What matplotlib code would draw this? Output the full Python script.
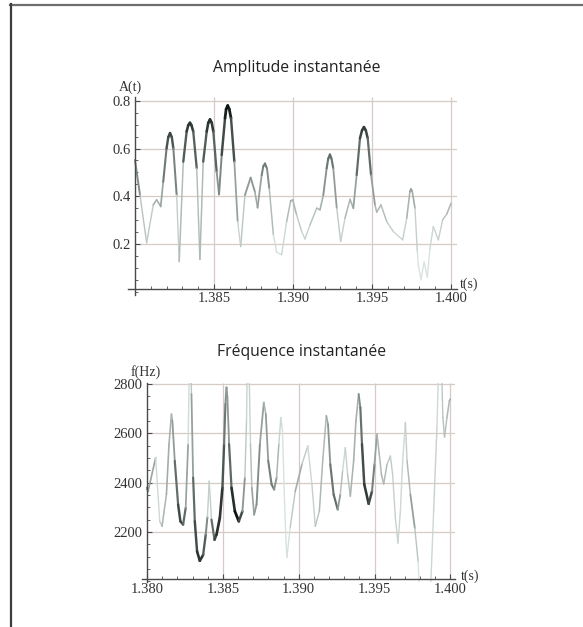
import numpy as np
import matplotlib
matplotlib.use('Agg')
import matplotlib.pyplot as plt
from matplotlib.collections import LineCollection
from matplotlib.lines import Line2D
from matplotlib.ticker import MultipleLocator

# ---------------- data ----------------
amp_t = [1.38000, 1.38032, 1.38074, 1.38116, 1.38137, 1.38163, 1.38179, 1.38200,
         1.38211, 1.38222, 1.38233, 1.38243, 1.38264, 1.38280, 1.38306, 1.38327,
         1.38337, 1.38348, 1.38358, 1.38369, 1.38391, 1.38411, 1.38432, 1.38454,
         1.38464, 1.38475, 1.38486, 1.38496, 1.38517, 1.38532, 1.38549, 1.38570,
         1.38577, 1.38587, 1.38597, 1.38608, 1.38629, 1.38650, 1.38669, 1.38696,
         1.38732, 1.38759, 1.38776, 1.38802, 1.38812, 1.38823, 1.38836, 1.38850,
         1.38876, 1.38897, 1.38928, 1.38960, 1.38985, 1.38998, 1.39023, 1.39055,
         1.39076, 1.39108, 1.39150, 1.39171, 1.39192, 1.39213, 1.39223, 1.39234,
         1.39244, 1.39255, 1.39277, 1.39302, 1.39329, 1.39361, 1.39382, 1.39403,
         1.39424, 1.39437, 1.39449, 1.39461, 1.39473, 1.39494, 1.39519, 1.39530,
         1.39557, 1.39593, 1.39635, 1.39694, 1.39720, 1.39740, 1.39747, 1.39755,
         1.39772, 1.39787, 1.39793, 1.39810, 1.39830, 1.39850, 1.39867, 1.39888,
         1.39920, 1.39947, 1.39973, 1.40000]
amp_a = [0.552, 0.405, 0.205, 0.364, 0.385, 0.357, 0.461, 0.601,
         0.648, 0.665, 0.648, 0.601, 0.405, 0.126, 0.545, 0.671,
         0.697, 0.708, 0.697, 0.671, 0.517, 0.135, 0.545, 0.671,
         0.708, 0.722, 0.708, 0.671, 0.503, 0.408, 0.573, 0.727,
         0.765, 0.780, 0.765, 0.727, 0.545, 0.294, 0.189, 0.405,
         0.478, 0.419, 0.352, 0.489, 0.525, 0.537, 0.515, 0.433,
         0.238, 0.165, 0.155, 0.294, 0.380, 0.385, 0.322, 0.252,
         0.221, 0.280, 0.350, 0.343, 0.405, 0.517, 0.557, 0.575,
         0.557, 0.517, 0.350, 0.210, 0.308, 0.387, 0.350, 0.489,
         0.643, 0.676, 0.690, 0.676, 0.643, 0.489, 0.364, 0.333,
         0.364, 0.294, 0.252, 0.217, 0.308, 0.420, 0.430, 0.420,
         0.350, 0.168, 0.112, 0.050, 0.125, 0.060, 0.182, 0.273,
         0.217, 0.301, 0.325, 0.370]

freq_t = [1.38000, 1.38007, 1.38057, 1.38084, 1.38099, 1.38128, 1.38145, 1.38161,
          1.38167, 1.38183, 1.38205, 1.38220, 1.38238, 1.38255, 1.38271, 1.38280,
          1.38288, 1.38293, 1.38304, 1.38315, 1.38330, 1.38348, 1.38370, 1.38387,
          1.38398, 1.38410, 1.38425, 1.38445, 1.38458, 1.38480, 1.38497, 1.38508,
          1.38517, 1.38524, 1.38530, 1.38541, 1.38557, 1.38579, 1.38605, 1.38629,
          1.38645, 1.38656, 1.38662, 1.38670, 1.38682, 1.38691, 1.38706, 1.38722,
          1.38744, 1.38770, 1.38783, 1.38799, 1.38821, 1.38838, 1.38854, 1.38869,
          1.38882, 1.38893, 1.38905, 1.38915, 1.38922, 1.38944, 1.38977, 1.39021,
          1.39060, 1.39087, 1.39109, 1.39136, 1.39158, 1.39182, 1.39193, 1.39208,
          1.39230, 1.39257, 1.39274, 1.39289, 1.39307, 1.39322, 1.39340, 1.39362,
          1.39377, 1.39395, 1.39406, 1.39417, 1.39432, 1.39461, 1.39483, 1.39499,
          1.39516, 1.39531, 1.39545, 1.39560, 1.39582, 1.39604, 1.39619, 1.39637,
          1.39654, 1.39670, 1.39685, 1.39703, 1.39714, 1.39736, 1.39765, 1.39787,
          1.39800, 1.39865, 1.39889, 1.39911, 1.39925, 1.39938, 1.39950, 1.39961,
          1.39977, 1.39993, 1.40000]
freq_f = [2379, 2365, 2501, 2243, 2223, 2352, 2556, 2678,
          2651, 2488, 2311, 2243, 2230, 2298, 2556, 2950,
          2950, 2759, 2420, 2243, 2121, 2083, 2107, 2189,
          2260, 2406, 2250, 2168, 2189, 2257, 2379, 2556,
          2719, 2786, 2746, 2556, 2379, 2284, 2243, 2284,
          2420, 2651, 2950, 2950, 2556, 2379, 2270, 2311,
          2556, 2725, 2678, 2488, 2393, 2372, 2420, 2556,
          2664, 2610, 2352, 2175, 2097, 2219, 2365, 2474,
          2549, 2393, 2223, 2284, 2488, 2671, 2637, 2474,
          2352, 2291, 2352, 2447, 2542, 2433, 2345, 2488,
          2651, 2759, 2705, 2556, 2393, 2314, 2365, 2474,
          2596, 2515, 2433, 2395, 2474, 2508, 2433, 2257,
          2155, 2284, 2488, 2644, 2488, 2352, 2216, 2080,
          1900, 1900, 2284, 2623, 2950, 2950, 2664, 2585,
          2664, 2732, 2740]

amp_xticks = [1.385, 1.390, 1.395, 1.400]
amp_xlabels = ["1.385", "1.390", "1.395", "1.400"]
amp_yticks = [0.2, 0.4, 0.6, 0.8]
amp_ylabels = ["0.2", "0.4", "0.6", "0.8"]

freq_xticks = [1.380, 1.385, 1.390, 1.395, 1.400]
freq_xlabels = ["1.380", "1.385", "1.390", "1.395", "1.400"]
freq_yticks = [2200, 2400, 2600, 2800]
freq_ylabels = ["2200", "2400", "2600", "2800"]

title_amp = "Amplitude instantanée"
title_freq = "Fréquence instantanée"

# ---------------- drawing ----------------
amp_t_arr = np.array(amp_t)
amp_a_arr = np.array(amp_a)

SERIF = ['Liberation Serif', 'DejaVu Serif']
SANS = ['Open Sans', 'DejaVu Sans']
AXC = '#4a4a4a'
GRIDC = '#d6cbc6'
TXTC = '#333333'


def shade(a):
    g = np.clip((a - 0.15) / 0.63, 0, 1) ** 1.35
    v = 0.88 - 0.82 * g
    return np.clip(np.stack([v - 0.03, v + 0.01, v + 0.0], axis=-1), 0, 1)


def colored_line(ax, t, y):
    t = np.asarray(t, float)
    y = np.asarray(y, float)
    pts = np.column_stack([t, y])
    segs = np.stack([pts[:-1], pts[1:]], axis=1)
    tm = 0.5 * (t[:-1] + t[1:])
    a = np.interp(tm, amp_t_arr, amp_a_arr)
    cols = shade(a)
    lw = 1.0 + 1.0 * np.clip((a - 0.3) / 0.45, 0, 1)
    lc = LineCollection(segs, colors=cols, linewidths=lw,
                        capstyle='round', joinstyle='round', zorder=3)
    ax.add_collection(lc)


def style(ax, xlim, ylim, yaxis_x, xaxis_y, xticks, xlabels, yticks, ylabels,
          xminor, yminor, ypad):
    ax.set_xlim(xlim)
    ax.set_ylim(ylim)
    ax.patch.set_alpha(0)
    for s in ['top', 'right']:
        ax.spines[s].set_visible(False)
    ax.spines['left'].set_position(('data', yaxis_x))
    ax.spines['bottom'].set_position(('data', xaxis_y))
    for s in ['left', 'bottom']:
        ax.spines[s].set_color(AXC)
        ax.spines[s].set_linewidth(1.0)
        ax.spines[s].set_zorder(4)
    ax.set_xticks(xticks, xlabels)
    ax.set_yticks(yticks, ylabels)
    ax.xaxis.set_minor_locator(MultipleLocator(xminor))
    ax.yaxis.set_minor_locator(MultipleLocator(yminor))
    ax.tick_params(which='major', direction='in', length=3.5, width=0.8,
                   color=AXC, labelcolor=TXTC, labelsize=10.5)
    ax.tick_params(which='minor', direction='in', length=2, width=0.6, color=AXC)
    ax.tick_params(axis='x', pad=2.5)
    ax.tick_params(axis='y', pad=ypad)
    for lab in ax.get_xticklabels() + ax.get_yticklabels():
        lab.set_family(SERIF)
    ax.hlines(yticks, yaxis_x, xlim[1], color=GRIDC, lw=0.9, zorder=1)
    ax.vlines([x for x in xticks if x > yaxis_x], xaxis_y, ylim[1],
              color=GRIDC, lw=0.9, zorder=1)


fig = plt.figure(figsize=(5.83, 6.27), dpi=100)

# top: amplitude
ax1 = fig.add_axes([128 / 583, 1 - 295 / 627, 329 / 583, 198 / 627])
style(ax1, (1.37956, 1.40038), (-0.014, 0.816), 1.380, 0.012,
      amp_xticks, amp_xlabels, amp_yticks, amp_ylabels, 0.001, 0.05, 3)
colored_line(ax1, amp_t, amp_a)
ax1.text(1.37972, 0.858, "A(t)", family=SERIF, fontsize=10, color=TXTC,
         ha='center', va='center', clip_on=False)
ax1.text(1.40115, 0.030, "t(s)", family=SERIF, fontsize=10, color=TXTC,
         ha='center', va='center', clip_on=False)

# bottom: frequency
ax2 = fig.add_axes([141.7 / 583, 1 - 582 / 627, 313.3 / 583, 199 / 627])
style(ax2, (1.37965, 1.4003), (1997, 2804), 1.380, 2008,
      freq_xticks, freq_xlabels, freq_yticks, freq_ylabels, 0.001, 50, 3)
colored_line(ax2, freq_t, freq_f)
ax2.text(1.37993, 2849, "f(Hz)", family=SERIF, fontsize=10, color=TXTC,
         ha='center', va='center', clip_on=False)
ax2.text(1.40128, 2022, "t(s)", family=SERIF, fontsize=10, color=TXTC,
         ha='center', va='center', clip_on=False)

# titles
fig.text(297 / 583, 1 - 68 / 627, title_amp, family=SANS, fontsize=11.3,
         color='#222222', ha='center', va='center')
fig.text(302 / 583, 1 - 352 / 627, title_freq, family=SANS, fontsize=11.3,
         color='#222222', ha='center', va='center')

# outer frame (top and left rules)
fig.add_artist(Line2D([10 / 583, 1.0], [1 - 4.5 / 627, 1 - 4.5 / 627],
                      transform=fig.transFigure, color='#6e6e6e', lw=1.6))
fig.add_artist(Line2D([11 / 583, 11 / 583], [0, 1 - 4 / 627],
                      transform=fig.transFigure, color='#3c3c3c', lw=1.6))

fig.savefig('out.png', dpi=100, facecolor='white')
